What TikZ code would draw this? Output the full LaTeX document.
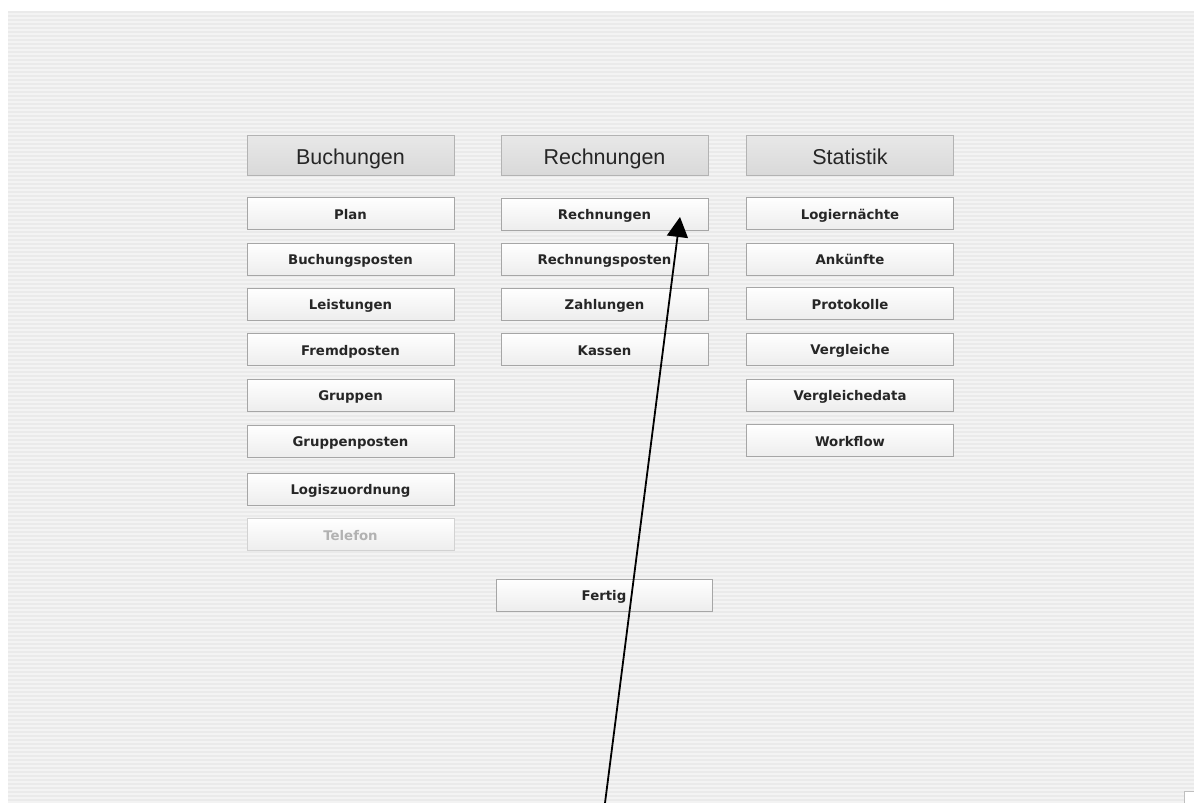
\documentclass[tikz,border=0pt]{standalone}
\usepackage{fontspec}
\setmainfont{DejaVu Sans}
\newfontfamily\headfont{Liberation Sans}
\usetikzlibrary{arrows.meta}
\definecolor{panelbg}{HTML}{F3F3F3}
\definecolor{stripe}{HTML}{EAEAEA}
\definecolor{btnedge}{HTML}{A6A6A6}
\definecolor{headfill}{HTML}{D9D9D9}
\definecolor{offtext}{HTML}{B2B2B2}
\tikzset{
  head/.style={draw=btnedge!85, top color=headfill!60, bottom color=headfill, minimum width=207pt, minimum height=40pt, inner sep=0pt, text height=22pt, text depth=4pt, font=\headfont\fontsize{21.5}{24}\selectfont, text=black!85},
  btn/.style={draw=btnedge, top color=white, bottom color=black!7, minimum width=207pt, minimum height=32pt, inner sep=0pt, text height=13pt, text depth=2pt, font=\bfseries\fontsize{13.3}{15}\selectfont, text=black!85},
  btnoff/.style={btn, draw=btnedge!50, text=offtext},
}
\begin{document}
\begin{tikzpicture}[x=1pt, y=-1pt]
    \useasboundingbox (0,0) rectangle (1194,803);
    \fill[white] (0,0) rectangle (1194,803);
    % striped window background
    \fill[panelbg] (8,11) rectangle (1194,803);
    \foreach \y in {11,15,...,799}
        \fill[stripe] (8,\y) rectangle (1194,\y+2);
    \fill[white] (1184,791) rectangle (1194,803);
    \draw[black!25] (1184,803) -- (1184,791) -- (1194,791);

    % headers
    \node[head] (hbuch) at (350.5,155) {Buchungen};
    \node[head] (hrech) at (604.5,155) {Rechnungen};
    \node[head] (hstat) at (850,155) {Statistik};

    % Buchungen
    \node[btn] (plan) at (350.5,213.5) {Plan};
    \node[btn] (bposten) at (350.5,259) {Buchungsposten};
    \node[btn] (leist) at (350.5,304) {Leistungen};
    \node[btn] (fremd) at (350.5,349.5) {Fremdposten};
    \node[btn] (grup) at (350.5,395) {Gruppen};
    \node[btn] (gposten) at (350.5,441) {Gruppenposten};
    \node[btn] (logis) at (350.5,489) {Logiszuordnung};
    \node[btnoff] (tel) at (350.5,534.5) {Telefon};

    % Rechnungen
    \node[btn] (rech) at (604.5,214) {Rechnungen};
    \node[btn] (rposten) at (604.5,259) {Rechnungsposten};
    \node[btn] (zahl) at (604.5,304) {Zahlungen};
    \node[btn] (kass) at (604.5,349.5) {Kassen};

    % Statistik
    \node[btn] (logn) at (850,213.5) {Logiernächte};
    \node[btn] (ankunft) at (850,259) {Ankünfte};
    \node[btn] (prot) at (850,303.5) {Protokolle};
    \node[btn] (vergl) at (850,349) {Vergleiche};
    \node[btn] (vdata) at (850,395) {Vergleichedata};
    \node[btn] (flow) at (850,440.5) {Workflow};

    \node[btn, minimum width=216pt] (fertig) at (604,595) {Fertig};

    % pointer
    \coordinate (tail) at (605,803);
    \coordinate (tip) at (680,217);
    \draw[line width=1.8pt, -{Triangle[length=20pt, width=21pt]}] (tail) -- (tip);
\end{tikzpicture}
\end{document}
